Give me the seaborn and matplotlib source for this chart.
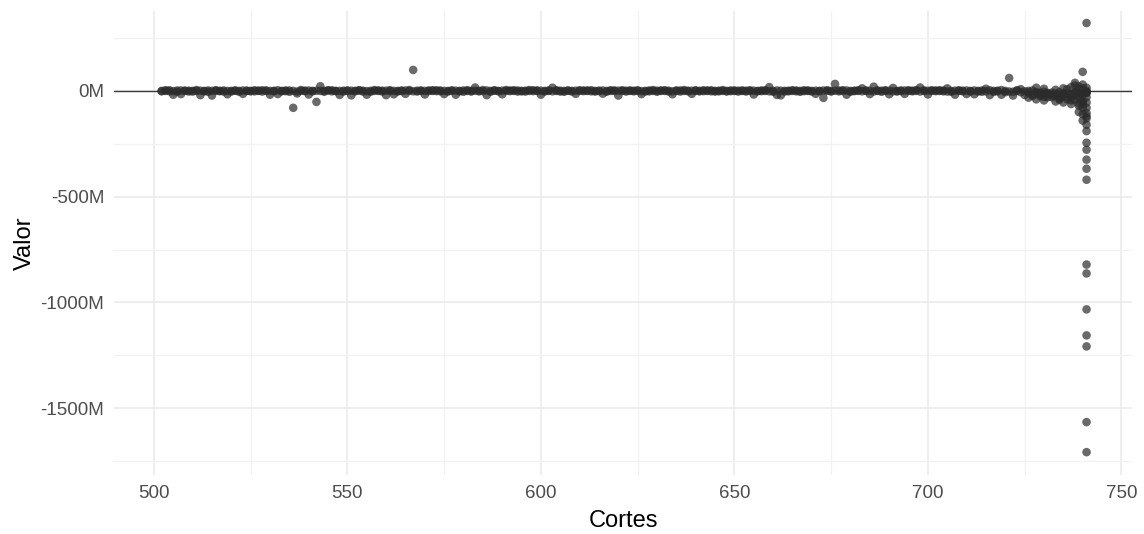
import matplotlib
matplotlib.use("Agg")
import matplotlib.pyplot as plt
import matplotlib.ticker as mticker
import numpy as np
import pandas as pd
import seaborn as sns

# ---- data (values in millions) ----
band_cortes = [
    502, 503, 504, 505, 506, 507, 508, 509, 510, 511,
    512, 513, 514, 515, 516, 517, 518, 519, 520, 521,
    522, 523, 524, 525, 526, 527, 528, 529, 530, 531,
    532, 533, 534, 535, 536, 537, 538, 539, 540, 541,
    542, 543, 544, 545, 546, 547, 548, 549, 550, 551,
    552, 553, 554, 555, 556, 557, 558, 559, 560, 561,
    562, 563, 564, 565, 566, 567, 568, 569, 570, 571,
    572, 573, 574, 575, 576, 577, 578, 579, 580, 581,
    582, 583, 584, 585, 586, 587, 588, 589, 590, 591,
    592, 593, 594, 595, 596, 597, 598, 599, 600, 601,
    602, 603, 604, 605, 606, 607, 608, 609, 610, 611,
    612, 613, 614, 615, 616, 617, 618, 619, 620, 621,
    622, 623, 624, 625, 626, 627, 628, 629, 630, 631,
    632, 633, 634, 635, 636, 637, 638, 639, 640, 641,
    642, 643, 644, 645, 646, 647, 648, 649, 650, 651,
    652, 653, 654, 655, 656, 657, 658, 659, 660, 661,
    662, 663, 664, 665, 666, 667, 668, 669, 670, 671,
    672, 673, 674, 675, 676, 677, 678, 679, 680, 681,
    682, 683, 684, 685, 686, 687, 688, 689, 690, 691,
    692, 693, 694, 695, 696, 697, 698, 699, 700, 701,
    702, 703, 704, 705, 706, 707, 708, 709, 710, 711,
    712, 713, 714, 715, 716, 717, 718, 719, 720, 721,
    722, 723, 724, 725, 726, 727, 728, 729, 730, 731,
    732, 733, 734, 735, 736, 737, 738, 739, 740, 741,
]
# outer spread of each corte
band_valor = [
    0, 3, -2, -18, 2, -15, 0, 1, -3, 0,
    -20, 0, 2, -22, 1, 0, -3, -16, 0, 2,
    0, -14, 1, 0, -2, 0, 3, 0, -18, 0,
    -15, 0, 2, -4, -80, -12, 0, 1, -17, 0,
    -52, 22, 0, 3, -2, 0, -19, 1, 0, -21,
    0, 2, -3, -18, 0, 4, 0, 1, -20, 0,
    -16, 0, 2, -14, 0, 99, 1, 0, -17, 2,
    0, 3, -2, -15, 0, 1, -18, 0, 2, 0,
    0, 16, 0, 4, -20, 0, 1, 0, -16, 0,
    2, 0, -3, 0, 1, 0, 3, 0, -18, 0,
    2, 15, 0, -3, 0, 1, 0, -14, 0, 2,
    0, -2, 0, 1, -13, 0, 3, 0, -22, 0,
    1, 0, -2, 0, -15, 0, 2, 0, 1, 0,
    0, -3, -16, 0, 2, 0, 1, -14, 0, 0,
    3, 0, -2, 0, 1, 0, 0, 2, 0, -3,
    0, 1, 0, -17, 0, 2, 0, 18, 0, -19,
    -21, 0, 1, 0, -2, 0, 3, 0, 0, -14,
    0, -33, 0, 0, 33, 2, 0, -18, 0, 1,
    0, 12, 0, -15, 20, 0, 1, 0, -16, 14,
    0, 2, -14, 0, 1, 0, 16, 0, -17, 0,
    2, 0, -2, 12, 0, -18, 0, 1, -15, 0,
    -16, 0, 2, 10, -20, 0, 1, -18, 0, 61,
    -22, 0, 8, -19, 0, -24, 15, -20, -28, -15,
    -30, -25, -35, -22, -40, -45, 38, -60, -50, 0,
]
# core values of each corte (close to zero)
core_valor = [
    -2, 0, 3, -1, -4, 2, 1, -3, 0, 4,
    1, -2, -4, 0, 3, -1, 2, 0, -3, 1,
    -4, 2, 0, -2, 3, 1, -3, 2, 0, -1,
    3, -2, -1, 2, 0, -3, 4, -1, 2, -2,
    1, 0, -4, 2, 3, -1, 0, -3, 2, 1,
    -2, 3, 1, -1, -4, 0, 2, -3, 1, 3,
    0, -3, -1, 2, 4, -2, -3, 2, 0, -1,
    3, -1, 2, 0, -3, 2, 1, -2, -4, 3,
    -3, 1, -2, -1, 2, -4, 3, -2, 1, 4,
    -1, 3, 2, -2, -3, 4, -1, 2, 1, -3,
    0, -2, 3, 1, -4, 2, -3, 1, 3, -1,
    2, 3, -3, -1, 2, -4, 0, 2, 1, 3,
    -3, 2, 1, 3, -1, -3, -2, 4, -4, 2,
    3, 1, -2, 2, -3, 4, -2, 1, 3, -2,
    -1, 2, 3, -3, -2, 4, -3, -1, 2, 1,
    2, -3, 3, 1, -2, -1, 3, -2, -4, 2,
    1, -3, -2, 3, 2, -4, -1, 2, -3, 1,
    -2, 2, 3, -3, 1, -2, 3, 2, -4, -1,
    3, -2, 2, 1, -3, 2, -4, 3, 1, -2,
    -3, -1, 2, 3, -2, 4, -3, 2, 1, 3,
    -1, 3, 2, -3, -4, 1, 3, -2, 2, -3,
    2, -3, -4, -2, 3, -5, -2, 4, -6, -3,
    -4, 3, -6, -2, -8, 2, -5, -9, -4, -10,
    -8, -12, -6, -14, -10, -18, -8, -22, -12, -8,
]

tail_cortes = [
    726, 727, 728, 728, 729,
    730, 730, 730, 731, 732,
    733, 733, 734, 734,
    735, 735, 735, 736, 736,
    737, 737, 737,
    738, 738, 738, 738,
    739, 739, 739, 739, 739, 739,
    740, 740, 740, 740, 740, 740, 740, 740, 740,
    741, 741, 741, 741, 741, 741, 741, 741, 741, 741, 741,
    741, 741, 741, 741, 741, 741, 741, 741, 741, 741, 741, 741, 741,
]
tail_valor = [
    -32, -20, -10, -40, -25,
    -15, -45, 10, -30, -20,
    -50, 5, -28, -42,
    -55, -15, 12, -30, 8,
    -30, -62, 18,
    -20, -45, 25, -8,
    -10, -35, -70, -100, 20, 8,
    -20, -50, -80, -110, -140, 90, 30, 12, -65,
    15, -10, -30, -55, -80, -105, -130, -160, -190, -245, -278,
    -325, -368, -420, -821, -863, -1033, -1156, -1208, -1566, -1708, 321, -5, -120,
]

df = pd.DataFrame({
    "Cortes": band_cortes + band_cortes + tail_cortes,
    "Valor": band_valor + core_valor + tail_valor,
})

# ---- figure ----
sns.set_theme(style="white")
plt.rcParams["font.family"] = ["Liberation Sans", "DejaVu Sans"]

fig = plt.figure(figsize=(11.44, 5.34), dpi=100)
ax = fig.add_axes([0.0997, 0.1105, 0.890, 0.869])

ax.axhline(0, color="#3a3a3a", lw=1.0, zorder=1)
sns.scatterplot(data=df, x="Cortes", y="Valor", ax=ax, color="#2b2b2b",
                alpha=0.7, s=38, edgecolor="none", zorder=3, legend=False)

ax.set_xlim(489.7, 752.8)
ax.set_ylim(-1816, 378)

ax.xaxis.set_major_locator(mticker.MultipleLocator(50))
ax.xaxis.set_minor_locator(mticker.MultipleLocator(25))
ax.yaxis.set_major_locator(mticker.FixedLocator([-1500, -1000, -500, 0]))
ax.yaxis.set_minor_locator(mticker.FixedLocator([-1750, -1250, -750, -250, 250]))
ax.yaxis.set_major_formatter(mticker.FuncFormatter(lambda v, p: f"{int(round(v))}M"))

ax.grid(which="major", color="#ebebeb", lw=1.2, zorder=0)
ax.grid(which="minor", color="#f2f2f2", lw=0.9, zorder=0)
ax.set_axisbelow(True)
for s in ax.spines.values():
    s.set_visible(False)
ax.tick_params(which="both", length=0)
ax.tick_params(axis="both", labelsize=13.5, labelcolor="#4d4d4d", pad=7)

ax.set_xlabel("Cortes", fontsize=17, color="black", labelpad=6)
ax.set_ylabel("Valor", fontsize=17, color="black", labelpad=3.5)

fig.savefig("out.png", dpi=100, facecolor="white")
